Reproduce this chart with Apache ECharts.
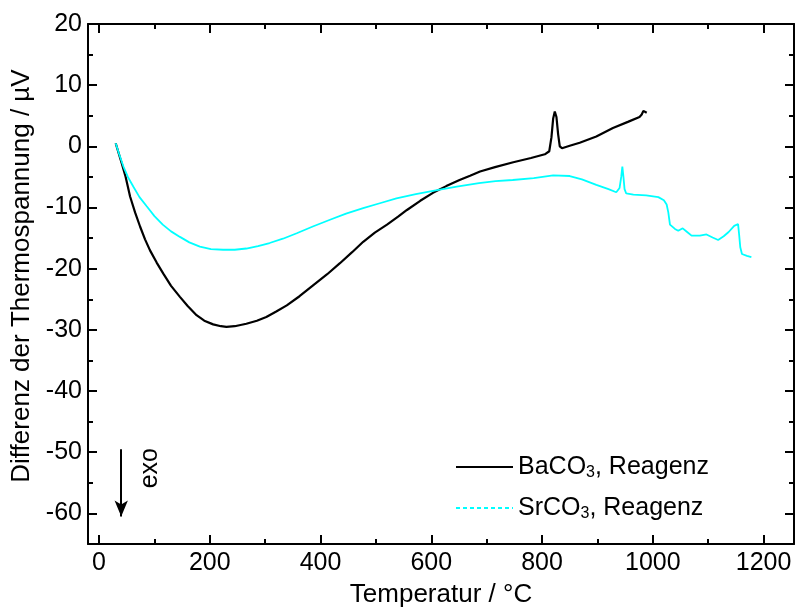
<!DOCTYPE html>
<html>
<head>
<meta charset="utf-8">
<script src="https://cdn.jsdelivr.net/npm/echarts@6/dist/echarts.min.js"></script>
<style>
html,body{margin:0;padding:0;background:#fff;}
#chart{width:798px;height:609px;}
</style>
</head>
<body>
<div id="chart"></div>
<script>
// ---- data ----
const baTemp = [30,35,41,48,56,65,74,83,92,104,116,130,146,160,176,190,206,220,230,245,266,285,302,320,339,362,387,412,435,457,477,498,520,540,556,580,603,627,651,670,688,715,748,780,805,813,817,820,823,826,829,832,836,850,868,898,928,955,976,980,983,986,989];
const baVal  = [0.5,-1.0,-2.8,-5.0,-8.2,-10.8,-13.1,-15.2,-17.0,-19.0,-20.8,-22.8,-24.6,-26.1,-27.6,-28.5,-29.1,-29.4,-29.5,-29.4,-29.0,-28.5,-27.9,-27.0,-26.0,-24.5,-22.7,-20.9,-19.1,-17.3,-15.6,-14.1,-12.8,-11.5,-10.4,-8.9,-7.6,-6.5,-5.5,-4.8,-4.1,-3.4,-2.6,-1.9,-1.3,-0.8,1.5,4.5,5.7,4.8,2.0,0.0,-0.3,0.1,0.6,1.6,3.0,4.0,4.8,5.2,5.8,5.9,5.5];

const srTemp = [30,36,44,52,62,73,86,100,115,130,146,163,182,202,224,245,266,287,308,332,357,386,417,446,477,507,537,572,608,646,686,716,747,785,820,850,872,898,920,934,940,943,945,947,949,952,965,988,1010,1020,1025,1028,1031,1040,1046,1054,1062,1070,1085,1097,1108,1118,1128,1137,1147,1154,1156,1158,1161,1170,1178];
const srVal  = [0.5,-1.2,-3.3,-5.0,-6.6,-8.3,-9.8,-11.4,-12.8,-13.9,-14.8,-15.7,-16.4,-16.8,-16.9,-16.9,-16.7,-16.3,-15.8,-15.1,-14.2,-13.1,-12.0,-11.0,-10.1,-9.3,-8.5,-7.8,-7.2,-6.6,-6.0,-5.7,-5.5,-5.2,-4.75,-4.85,-5.4,-6.3,-7.0,-7.5,-6.8,-5.0,-3.3,-5.0,-7.0,-7.7,-7.9,-8.0,-8.3,-8.8,-9.5,-10.8,-12.8,-13.5,-13.8,-13.4,-14.0,-14.6,-14.6,-14.4,-14.9,-15.3,-14.7,-14.0,-13.0,-12.7,-14.5,-16.5,-17.6,-17.9,-18.1];

const seriesNames = ['BaCO3, Reagenz', 'SrCO3, Reagenz'];
const xMajorTicks = [0,200,400,600,800,1000,1200];
const xMinorTicks = [100,300,500,700,900,1100];
const yMajorTicks = [20,10,0,-10,-20,-30,-40,-50,-60];
const yMinorTicks = [15,5,-5,-15,-25,-35,-45,-55];
const xRange = [-20, 1255];
const yRange = [-65, 20];
const xTitle = 'Temperatur / °C';
const yTitle = 'Differenz der Thermospannung / µV';
const exoArrow = [[40,-49.5],[40,-60.5]];
const exoText = 'exo';
const exoTextPos = [93, -52.6];

// ---- chart ----
const FONT = 'Liberation Sans, Arial, sans-serif';
const FS = 25;
const FT = 26;
const chart = echarts.init(document.getElementById('chart'), null, {renderer:'canvas'});

const gridRect = {left:88, right:4, top:24, bottom:65, outerBoundsMode:'none', containLabel:false};
const plain = v => String(v);

function xAxis(gridIndex, position, ticks, len, labels, lineShow, name){
  const ax = {
    type:'value', gridIndex, position, min:xRange[0], max:xRange[1],
    axisLine:{show:lineShow, onZero:false, lineStyle:{color:'#000', width:2}},
    axisTick:{show:true, inside:true, length:len, customValues:ticks, lineStyle:{color:'#000', width:2}},
    axisLabel:{show:labels, customValues:ticks, formatter:plain, margin:7, color:'#000', fontSize:FS, fontFamily:FONT},
    splitLine:{show:false}
  };
  if (name){
    ax.name = name; ax.nameLocation='middle'; ax.nameGap=38;
    ax.nameTextStyle = {color:'#000', fontSize:FT, fontFamily:FONT};
  }
  return ax;
}
function yAxis(gridIndex, position, ticks, len, labels, lineShow, name){
  const ax = {
    type:'value', gridIndex, position, min:yRange[0], max:yRange[1],
    axisLine:{show:lineShow, onZero:false, lineStyle:{color:'#000', width:2}},
    axisTick:{show:true, inside:true, length:len, customValues:ticks, lineStyle:{color:'#000', width:2}},
    axisLabel:{show:labels, customValues:ticks, formatter:plain, margin:6, color:'#000', fontSize:FS, fontFamily:FONT},
    splitLine:{show:false}
  };
  if (name){
    ax.name = name; ax.nameLocation='middle'; ax.nameGap=52;
    ax.nameTextStyle = {color:'#000', fontSize:FT, fontFamily:FONT, padding:[0,0,0,16]};
  }
  return ax;
}

const labelRich = {
  sub:{fontSize:16, fontFamily:FONT, color:'#000', verticalAlign:'bottom', padding:[14,0,0,0], lineHeight:28}
};

const option = {
  backgroundColor:'#fff',
  animation:false,
  grid:[Object.assign({}, gridRect), Object.assign({}, gridRect)],
  xAxis:[
    xAxis(0,'bottom',xMajorTicks,9,true,true,xTitle),
    xAxis(0,'top',xMajorTicks,9,false,true),
    xAxis(1,'bottom',xMinorTicks,5,false,false),
    xAxis(1,'top',xMinorTicks,5,false,false)
  ],
  yAxis:[
    yAxis(0,'left',yMajorTicks,9,true,true,yTitle),
    yAxis(0,'right',yMajorTicks,9,false,true),
    yAxis(1,'left',yMinorTicks,5,false,false),
    yAxis(1,'right',yMinorTicks,5,false,false)
  ],
  legend:{
    left:455, top:451, orient:'vertical', padding:0,
    itemWidth:57, itemHeight:14, itemGap:11,
    itemStyle:{opacity:0},
    textStyle:{color:'#000', fontSize:FS, fontFamily:FONT, lineHeight:28, rich:labelRich},
    formatter:function(n){ return n.replace('CO3','CO{sub|3}'); },
    data:[
      {name:seriesNames[0]},
      {name:seriesNames[1], lineStyle:{type:[4,3], width:2}}
    ]
  },
  series:[
    {
      name:seriesNames[0], type:'line', xAxisIndex:0, yAxisIndex:0,
      data:baTemp.map((t,i)=>[t,baVal[i]]),
      showSymbol:false, symbol:'none', smooth:false,
      lineStyle:{color:'#000', width:2.2}, itemStyle:{color:'#000'},
      markLine:{
        silent:true, symbol:['none','arrow'], symbolSize:[10,16],
        label:{show:false},
        lineStyle:{color:'#000', width:2, type:'solid'},
        data:[[{coord:exoArrow[0]},{coord:exoArrow[1]}]]
      }
    },
    {
      name:seriesNames[1], type:'line', xAxisIndex:0, yAxisIndex:0,
      data:srTemp.map((t,i)=>[t,srVal[i]]),
      showSymbol:false, symbol:'none', smooth:false,
      lineStyle:{color:'#00ffff', width:1.8}, itemStyle:{color:'#00ffff'}
    }
  ]
};
chart.setOption(option);

// "exo" annotation placed next to the arrow, in data coordinates
const p = chart.convertToPixel({xAxisIndex:0, yAxisIndex:0}, exoTextPos);
chart.setOption({graphic:[{
  type:'text', x:p[0], y:p[1], rotation:Math.PI/2,
  style:{text:exoText, fontSize:FS, fontFamily:FONT, fill:'#000', align:'center', verticalAlign:'middle'}
}]});
</script>
</body>
</html>
